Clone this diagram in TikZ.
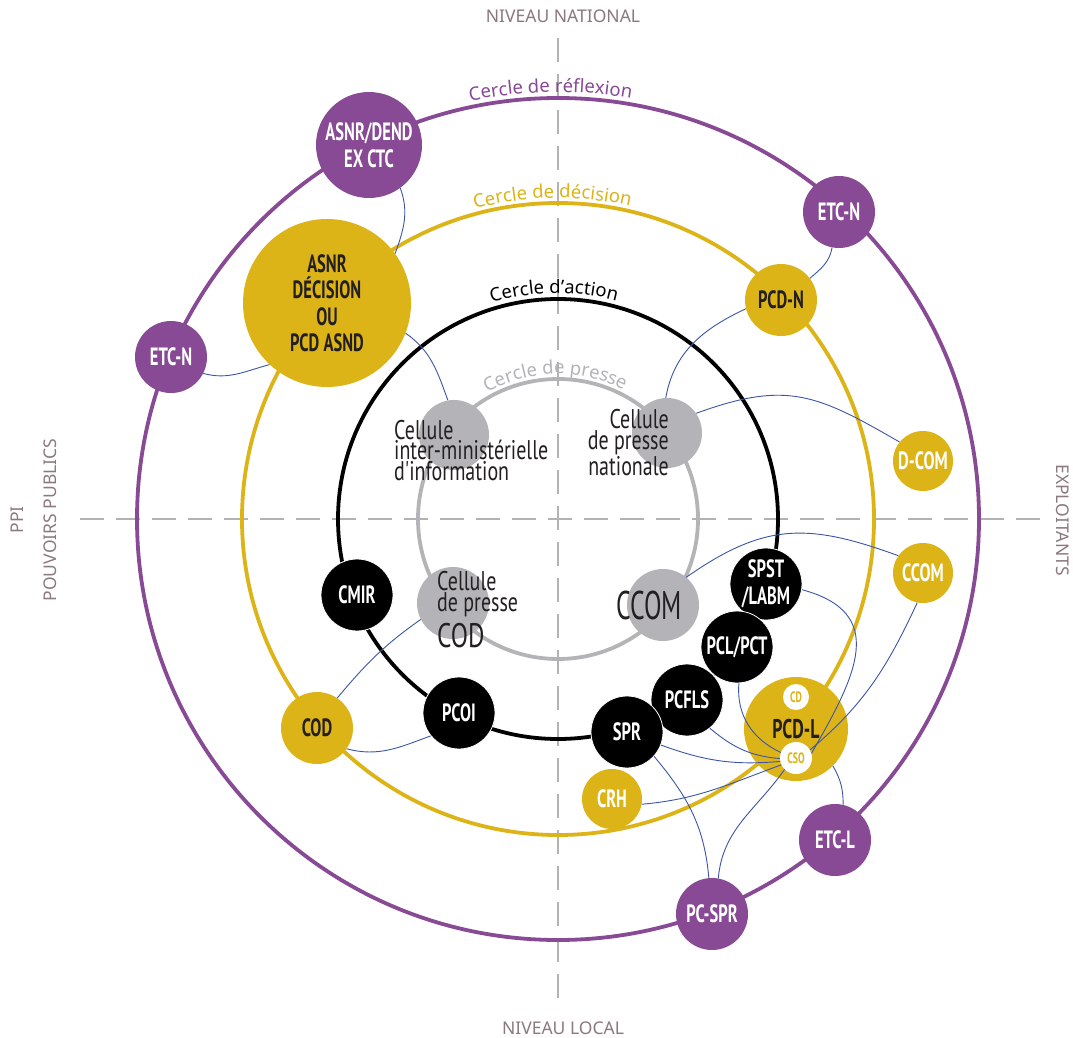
\documentclass[tikz,border=0pt]{standalone}
\usepackage{fontspec}
\setmainfont{Noto Sans}
\newfontfamily\condB[FakeStretch=0.66]{PT Sans}
\newfontfamily\condR[FakeStretch=0.74]{PT Sans}
\newfontfamily\condX[FakeStretch=0.64]{PT Sans}
\usetikzlibrary{decorations.text}
\definecolor{cpurple}{RGB}{136,74,148}
\definecolor{cyellow}{RGB}{220,180,24}
\definecolor{cgray}{RGB}{180,180,184}
\definecolor{cblue}{RGB}{60,85,165}
\definecolor{caxis}{RGB}{140,120,128}
\definecolor{cdark}{RGB}{35,31,32}
\definecolor{cdash}{RGB}{178,178,178}
\tikzset{
  base node/.style={circle, inner sep=0pt, align=center, font=\condB\bfseries\fontsize{25}{27}\selectfont},
  pnode/.style={base node, fill=cpurple, text=white},
  ynode/.style={base node, fill=cyellow, text=cdark},
  ywnode/.style={base node, fill=cyellow, text=white},
  bnode/.style={base node, fill=black, text=white, draw=white, line width=0.8pt},
  gnode/.style={circle, inner sep=0pt, fill=cgray},
  snode/.style={base node, fill=white, text=cyellow, font=\condB\bfseries\fontsize{15}{15}\selectfont},
  celltext/.style={inner sep=0pt, text=cdark, font=\condR\fontsize{27}{20.5}\selectfont},
  ring/.style={line width=3.8pt},
  link/.style={cblue, line width=0.9pt},
  axis/.style={inner sep=0pt, text=caxis, font=\fontsize{17.5}{17.5}\selectfont},
  dashline/.style={cdash, line width=1.4pt, dash pattern=on 24pt off 12pt},
  ringlabel/.style={decorate, decoration={text along path, text align=center, raise=0pt}}
}
\begin{document}
\begin{tikzpicture}[x=1pt,y=1pt]
\path[use as bounding box, fill=white] (0,0) rectangle (1073,-1038);
\coordinate (C) at (558,-519);
\coordinate (hl) at (80,-519);
\coordinate (hr) at (1040,-519);
\coordinate (vt) at (558,-38);
\coordinate (vb) at (558,-1000);
% dashed axes
\draw[dashline] (hl) -- (hr);
\draw[dashline] (vt) -- (vb);
% rings
\draw[ring, cpurple] (C) circle[radius=421];
\draw[ring, cyellow] (C) circle[radius=316];
\draw[ring, black] (C) circle[radius=220];
\draw[ring, cgray] (C) circle[radius=140];
% ring labels
\path[ringlabel, decoration={text={|\fontsize{18.5}{18.5}\selectfont\color{cpurple}|Cercle de réflexion}}]
  (C) ++(121:427) arc[start angle=121, end angle=61, radius=427];
\path[ringlabel, decoration={text={|\fontsize{18.5}{18.5}\selectfont\color{cyellow}|Cercle de décision}}]
  (C) ++(121:321) arc[start angle=121, end angle=61, radius=321];
\path[ringlabel, decoration={text={|\fontsize{18.5}{18.5}\selectfont\color{black}|Cercle d'action}}]
  (C) ++(131:226) arc[start angle=131, end angle=51, radius=226];
\path[ringlabel, decoration={text={|\fontsize{18.5}{18.5}\selectfont\color{cgray}|Cercle de presse}}]
  (C) ++(141:145) arc[start angle=141, end angle=41, radius=145];
% axis labels
\node[axis] (nn) at (563,-16) {NIVEAU NATIONAL};
\node[axis] (nl) at (563,-1028) {NIVEAU LOCAL};
\node[axis, rotate=-90] (ex) at (1063,-520) {EXPLOITANTS};
\node[axis, rotate=90] (ppi) at (17,-520) {PPI};
\node[axis, rotate=90] (pp) at (50,-520) {POUVOIRS PUBLICS};
% nodes
\node[pnode, minimum size=106pt] (dend) at (369,-145) {ASNR/DEND\\EX CTC};
\node[ynode, minimum size=168pt, font=\condB\bfseries\fontsize{25}{26.5}\selectfont] (asnr) at (327,-303) {ASNR\\DÉCISION\\OU\\PCD ASND};
\node[pnode, minimum size=72pt] (etcnl) at (171,-357) {ETC-N};
\node[pnode, minimum size=72pt] (etcnr) at (839,-212) {ETC-N};
\node[ynode, minimum size=72pt] (pcdn) at (781,-300) {PCD-N};
\node[ywnode, minimum size=60pt] (dcom) at (923,-461) {D-COM};
\node[ywnode, minimum size=60pt] (ccomy) at (923,-573) {CCOM};
\node[gnode, minimum size=70pt] (cim) at (454,-435) {};
\node[gnode, minimum size=70pt] (cpn) at (667,-433) {};
\node[gnode, minimum size=72pt] (cpcod) at (453,-603) {};
\node[gnode, minimum size=72pt] (ccomg) at (663,-605) {};
\node[bnode, minimum size=72pt] (cmir) at (357,-595) {CMIR};
\node[ynode, minimum size=72pt] (cod) at (317,-728) {COD};
\node[bnode, minimum size=72pt] (pcoi) at (459,-713) {PCOI};
\node[bnode, minimum size=72pt] (spst) at (766,-584) {SPST\\/LABM};
\node[bnode, minimum size=72pt] (pclpct) at (737,-647) {PCL/PCT};
\node[bnode, minimum size=72pt] (pcfls) at (687,-700) {PCFLS};
\node[bnode, minimum size=72pt] (spr) at (627,-732) {SPR};
\node[ynode, minimum size=104pt, font=\condB\bfseries\fontsize{27}{27}\selectfont] (pcdl) at (796,-729) {PCD-L};
\node[ywnode, minimum size=60pt] (crh) at (612,-799) {CRH};
\node[pnode, minimum size=72pt] (etcl) at (835,-840) {ETC-L};
\node[pnode, minimum size=72pt] (pcspr) at (712,-914) {PC-SPR};
% texts of grey cells (base anchor = last line)
\node[celltext, align=left, anchor=base west] (cimt) at (394,-480) {Cellule\\inter-ministérielle\\d'information};
\node[celltext, align=right, anchor=base east] (cpnt) at (669,-475) {Cellule\\de presse\\nationale};
\node[celltext, align=left, anchor=base west] (cpcodt) at (437,-647) {Cellule\\de presse\\[5pt]{\fontsize{34}{34}\selectfont COD}};
\node[celltext, font=\condX\fontsize{40}{40}\selectfont] (ccomt) at (649,-605) {CCOM};
% connectors
\draw[link] (dend.-54) to[out=-70,in=70] (asnr.36);
\draw[link] (etcnl.-27) to[out=-15,in=-165] (asnr.-133);
\draw[link] (asnr.-21) to[out=-35,in=110] (cim.100);
\draw[link] (etcnr.-101) to[out=-100,in=40] (pcdn.37);
\draw[link] (pcdn.-166) to[out=-155,in=80] (cpn.92);
\draw[link] (cpn.34) to[out=20,in=150,looseness=1.2] (dcom.141);
\draw[link] (ccomg.50) to[out=35,in=160,looseness=1.15] (ccomy.145);
\draw[link] (cod.56) to[out=50,in=-145] (cpcod.-153);
\draw[link] (cod.-35) to[out=-15,in=-160] (pcoi.-141);
\draw[link] (pcdl.-45) to[out=-60,in=90] (etcl.77);
\draw[link] (spr.-42) to[out=-50,in=95] (pcspr.95);
% small circles inside PCD-L
\node[snode, minimum size=26pt] (cd) at (796,-697) {CD};
\node[snode, minimum size=32pt] (cso) at (796,-758) {CSO};
\draw[link] (spst.-9) to[out=-15,in=60,looseness=1.4] (cso.17);
\draw[link] (ccomy.-101) to[out=-115,in=40] (cso.30);
\draw[link] (pclpct.-87) to[out=-95,in=155] (cso.160);
\draw[link] (pcfls.-51) to[out=-40,in=175] (cso.-178);
\draw[link] (spr.-21) to[out=-20,in=-175] (cso.-168);
\draw[link] (crh.-10) to[out=5,in=-160] (cso.-155);
\draw[link] (pcspr.80) to[out=85,in=-125] (cso.-135);
\end{tikzpicture}
\end{document}
